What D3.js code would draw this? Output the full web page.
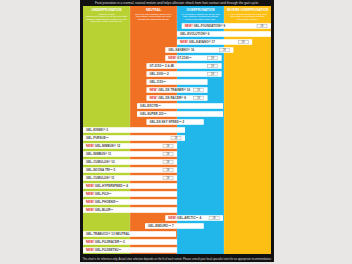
<!DOCTYPE html>
<html>
<head>
<meta charset="utf-8">
<script src="https://cdn.jsdelivr.net/npm/d3@7"></script>
<style>
  body { margin: 0; background: #e8e7e5; }
  svg { display: block; font-family: "Liberation Sans", Arial, sans-serif; }
</style>
</head>
<body>
<svg id="chart" width="352" height="264"></svg>
<script>
const title = 'Foot pronation is a normal, natural motion and helps alleviate shock from foot contact and through the gait cycle.';
const footer = 'This chart is for reference only. Actual shoe selection depends on the fit of each runner. Please consult your local specialist store for an appropriate recommendation.';

const columns = ['UNDERPRONATION', 'NEUTRAL', 'OVERPRONATION', 'SEVERE OVERPRONATION'];
const columnNotes = [
  ['(SUPINATION)', 'Insufficient inward roll of the foot after', 'landing. Extra stress is placed on the', 'outer side of the foot and leg.'],
  ['The foot rolls inwards about 15%,', 'comfortably supporting the body', 'weight and absorbing shock.'],
  ['An excessive inward roll of the foot', 'after landing, transferring stress', 'to the inner side of the foot.'],
  ['A very strong inward roll of the foot', 'that calls for maximum support', 'and motion control.']
];
const colColors = ['#b7d232', '#f07024', '#22b7ea', '#fdbf14'];

// bar data, start/end in column units (0 = left edge of first column)
const shoes = [
  'NEW! GEL-FOUNDATION® 9', 'GEL-EVOLUTION® 6', 'NEW! GEL-KAYANO® 17', 'GEL-KAYANO® 16',
  'NEW! GT-2160™', 'GT-2150™ 2 & 4E', 'GEL-3000™ 2', 'GEL-1150™',
  'NEW! GEL-DS TRAINER® 16', 'NEW! GEL-DS RACER® 8', 'GEL-EXCITE™', 'GEL-SUPER J33™',
  'GEL-DS SKY SPEED™ 2', 'GEL-KINSEI® 3', 'GEL-PURSUE™',
  'NEW! GEL-NIMBUS® 12', 'GEL-NIMBUS® 11', 'GEL-CUMULUS® 12', 'GEL-NOOSA TRI™ 5',
  'GEL-CUMULUS® 11', 'NEW! GEL-HYPERSPEED™ 4', 'NEW! GEL-FUJI™', 'NEW! GEL-PHOENIX™', 'NEW! GEL-BLUR™',
  'NEW! GEL-ARCTIC™ 4', 'GEL-ENDURO™ 7', 'GEL-TRABUCO® 13 NEUTRAL', 'NEW! GEL-FUJIRACER™ 2', 'NEW! GEL-FUJISETSU™'
];
const starts = [2.1, 2.0, 2.0, 1.75, 1.75, 1.35, 1.35, 1.35, 1.35, 1.35, 1.15, 1.15, 1.35,
  0, 0, 0, 0, 0, 0, 0, 0, 0, 0, 0, 1.75, 1.32, 0, 0, 0];
const ends = [4.0, 4.0, 3.6, 3.2, 2.95, 2.95, 2.95, 2.65, 2.65, 2.65, 2.98, 2.98, 2.57,
  2.17, 2.17, 2.0, 2.0, 2.0, 2.0, 2.0, 2.0, 2.0, 2.0, 2.0, 2.98, 2.57, 1.98, 2.0, 2.0];
const tags = ['2E', '', '2E', '2E', '2E', '2E', '2E', '', '2E', '2E', '', '', '',
  '', '2E', '2E', '2E', '2E', '2E', '2E', '', '', '', '', '2E', '', '', '', ''];

const svg = d3.select('#chart');
const x = d3.scaleLinear().domain([0, 4]).range([83, 271]);
const y = d3.scaleBand().domain(d3.range(shoes.length)).range([22, 254])
  .paddingInner(0.3).paddingOuter(0.15);

// frame
svg.append('rect').attr('x', 80).attr('y', 0).attr('width', 194).attr('height', 262).attr('fill', '#111');

// columns
svg.append('g').selectAll('rect')
  .data(columns)
  .enter().append('rect')
  .attr('x', (d, i) => x(i))
  .attr('y', 6)
  .attr('width', (d, i) => x(i + 1) - x(i))
  .attr('height', 248)
  .attr('fill', (d, i) => colColors[i]);

svg.append('g').selectAll('line')
  .data([1, 2, 3])
  .enter().append('line')
  .attr('x1', d => x(d)).attr('x2', d => x(d))
  .attr('y1', 6).attr('y2', 254)
  .attr('stroke', '#fff').attr('stroke-opacity', 0.35).attr('stroke-width', 0.6);

// headers
svg.append('text')
  .attr('x', 177).attr('y', 4.3)
  .attr('text-anchor', 'middle')
  .attr('font-size', 3.3)
  .attr('fill', '#ddd')
  .text(title);

const heads = svg.append('g').selectAll('g')
  .data(columns)
  .enter().append('g')
  .attr('transform', (d, i) => `translate(${(x(i) + x(i + 1)) / 2},0)`);

heads.append('text')
  .attr('y', 11)
  .attr('text-anchor', 'middle')
  .attr('font-size', 3.2)
  .attr('font-weight', 'bold')
  .attr('fill', '#fff')
  .text(d => d);

heads.each(function(d, i) {
  d3.select(this).selectAll('text.note')
    .data(columnNotes[i])
    .enter().append('text')
    .attr('class', 'note')
    .attr('y', (t, j) => 14.5 + j * 2.6)
    .attr('text-anchor', 'middle')
    .attr('font-size', 2.5)
    .attr('fill', '#fff')
    .text(t => t);
});

// bars
const rows = svg.append('g').selectAll('g')
  .data(shoes)
  .enter().append('g')
  .attr('transform', (d, i) => `translate(0,${y(i)})`);

rows.append('rect')
  .attr('x', (d, i) => x(starts[i]))
  .attr('width', (d, i) => x(ends[i]) - x(starts[i]))
  .attr('height', y.bandwidth())
  .attr('fill', '#fff');

const labels = rows.append('text')
  .attr('x', (d, i) => x(starts[i]) + 3)
  .attr('y', y.bandwidth() / 2 + 1.1)
  .attr('font-size', 3)
  .attr('font-weight', 'bold')
  .attr('fill', '#444');

labels.each(function(d) {
  const t = d3.select(this);
  if (d.startsWith('NEW! ')) {
    t.append('tspan').attr('fill', '#e2231a').text('NEW! ');
    t.append('tspan').text(d.slice(5));
  } else {
    t.text(d);
  }
});

const tagRows = rows.filter((d, i) => tags[i] !== '');
tagRows.append('rect')
  .attr('x', d => x(ends[shoes.indexOf(d)]) - 14)
  .attr('y', 1)
  .attr('width', 10)
  .attr('height', y.bandwidth() - 2)
  .attr('fill', '#fff')
  .attr('stroke', '#999')
  .attr('stroke-width', 0.4);
tagRows.append('text')
  .attr('x', d => x(ends[shoes.indexOf(d)]) - 9)
  .attr('y', y.bandwidth() / 2 + 1)
  .attr('text-anchor', 'middle')
  .attr('font-size', 2.6)
  .attr('fill', '#555')
  .text(d => tags[shoes.indexOf(d)]);

svg.append('text')
  .attr('x', 177).attr('y', 259.5)
  .attr('text-anchor', 'middle')
  .attr('font-size', 2.6)
  .attr('fill', '#ddd')
  .text(footer);
</script>
</body>
</html>
